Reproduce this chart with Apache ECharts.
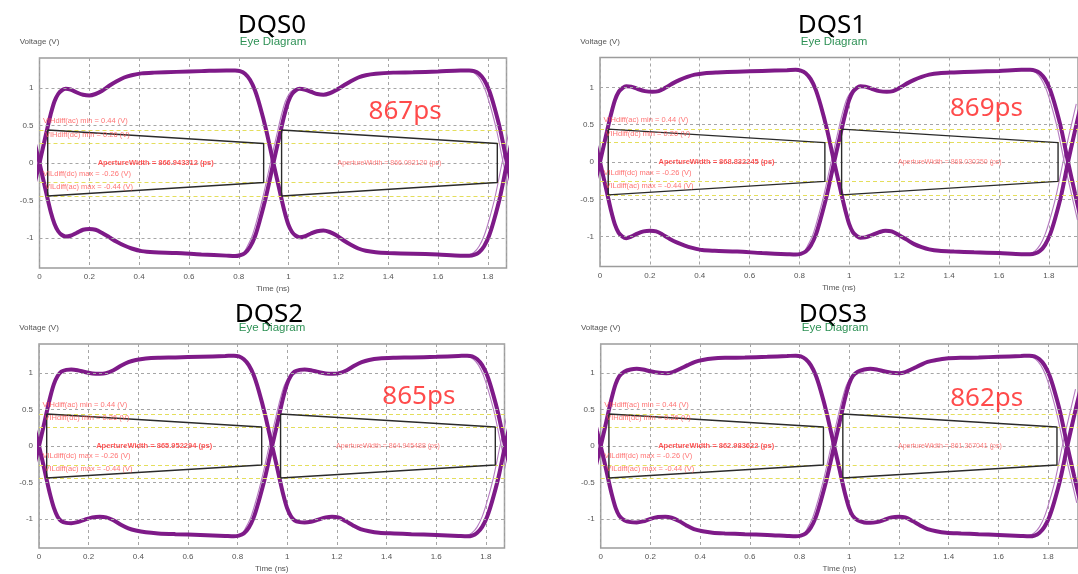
<!DOCTYPE html>
<html>
<head>
<meta charset="utf-8">
<script src="https://cdn.jsdelivr.net/npm/echarts@6/dist/echarts.min.js"></script>
<style>
  html, body { margin: 0; padding: 0; background: #ffffff; }
  #chart { width: 1078px; height: 574px; }
</style>
</head>
<body>
<div id="chart"></div>
<script>
// ---- data -------------------------------------------------------------
const panelNames = ['DQS0', 'DQS1', 'DQS2', 'DQS3'];
const eyeWidthLabels = ['867ps', '869ps', '865ps', '862ps'];

// aperture start (ns) and aperture width (ps) of the two eyes in each panel
const apertureStartNs = [[0.033, 0.972], [0.033, 0.969], [0.031, 0.973], [0.033, 0.974]];
const apertureWidthPs = [
  [866.943312, 866.092120],
  [868.832245, 868.030250],
  [865.952294, 864.945488],
  [862.983622, 861.367041]
];

// receiver thresholds (V)
const thresholdNames = ['VIHdiff(ac) min', 'VIHdiff(dc) min', 'VILdiff(dc) max', 'VILdiff(ac) max'];
const thresholdVolts = [0.44, 0.26, -0.26, -0.44];

const timeTicks = [0, 0.2, 0.4, 0.6, 0.8, 1, 1.2, 1.4, 1.6, 1.8];
const voltTicks = [-1, -0.5, 0, 0.5, 1];

// waveform traces [time ns, voltage V]; A = high bit then low bit, B = low bit then high bit
const dqs0TraceA = [[-0.03,-0.42],[-0.015,-0.21],[0,0],[0.015,0.22],[0.03,0.44],[0.045,0.65],[0.06,0.82],[0.075,0.92],[0.09,0.97],[0.105,0.99],[0.125,0.98],[0.15,0.94],[0.175,0.91],[0.2,0.9],[0.225,0.92],[0.25,0.96],[0.28,1.03],[0.31,1.09],[0.34,1.14],[0.37,1.17],[0.41,1.195],[0.46,1.205],[0.55,1.215],[0.65,1.225],[0.75,1.235],[0.785,1.235],[0.805,1.225],[0.825,1.19],[0.845,1.11],[0.865,0.97],[0.885,0.76],[0.91,0.44],[0.939,0],[0.954,-0.22],[0.969,-0.44],[0.984,-0.65],[0.999,-0.82],[1.014,-0.92],[1.029,-0.97],[1.044,-0.99],[1.064,-0.98],[1.09,-0.94],[1.115,-0.91],[1.14,-0.9],[1.165,-0.92],[1.19,-0.96],[1.22,-1.03],[1.25,-1.09],[1.28,-1.14],[1.31,-1.17],[1.35,-1.19],[1.4,-1.2],[1.5,-1.21],[1.6,-1.22],[1.69,-1.235],[1.725,-1.235],[1.745,-1.225],[1.765,-1.19],[1.785,-1.11],[1.805,-0.97],[1.825,-0.76],[1.85,-0.44],[1.877,0],[1.905,0.42],[1.93,0.78]];
const dqs0TraceB = [[-0.03,0.42],[-0.015,0.21],[0,0],[0.015,-0.22],[0.03,-0.44],[0.045,-0.65],[0.06,-0.81],[0.075,-0.91],[0.09,-0.96],[0.105,-0.98],[0.125,-0.97],[0.15,-0.93],[0.175,-0.89],[0.2,-0.88],[0.225,-0.89],[0.25,-0.93],[0.28,-0.99],[0.31,-1.05],[0.34,-1.1],[0.37,-1.14],[0.41,-1.175],[0.46,-1.19],[0.55,-1.2],[0.65,-1.22],[0.75,-1.235],[0.785,-1.24],[0.805,-1.23],[0.825,-1.2],[0.845,-1.12],[0.865,-0.98],[0.885,-0.76],[0.91,-0.44],[0.939,0],[0.954,0.22],[0.969,0.44],[0.984,0.65],[0.999,0.82],[1.014,0.92],[1.029,0.97],[1.044,0.99],[1.064,0.98],[1.09,0.95],[1.115,0.92],[1.14,0.91],[1.165,0.93],[1.19,0.97],[1.22,1.03],[1.25,1.09],[1.28,1.14],[1.31,1.17],[1.35,1.19],[1.42,1.205],[1.5,1.21],[1.6,1.22],[1.69,1.235],[1.725,1.235],[1.745,1.225],[1.765,1.19],[1.785,1.11],[1.805,0.97],[1.825,0.76],[1.85,0.44],[1.877,0],[1.905,-0.42],[1.93,-0.78]];

const dqs1TraceA = [[-0.03,-0.42],[-0.015,-0.21],[0,0],[0.015,0.22],[0.03,0.44],[0.045,0.65],[0.06,0.83],[0.075,0.94],[0.09,0.99],[0.105,1.015],[0.125,1.01],[0.15,0.98],[0.18,0.95],[0.21,0.94],[0.235,0.95],[0.26,0.99],[0.29,1.05],[0.32,1.1],[0.35,1.14],[0.38,1.17],[0.42,1.19],[0.47,1.2],[0.55,1.21],[0.65,1.22],[0.75,1.23],[0.785,1.235],[0.805,1.225],[0.825,1.19],[0.845,1.11],[0.865,0.97],[0.885,0.76],[0.91,0.44],[0.939,0],[0.954,-0.22],[0.969,-0.44],[0.984,-0.65],[0.999,-0.83],[1.014,-0.94],[1.029,-0.99],[1.044,-1.015],[1.064,-1.01],[1.09,-0.98],[1.12,-0.94],[1.145,-0.92],[1.17,-0.93],[1.2,-0.98],[1.23,-1.04],[1.26,-1.1],[1.29,-1.14],[1.32,-1.17],[1.36,-1.19],[1.42,-1.2],[1.5,-1.21],[1.6,-1.22],[1.69,-1.235],[1.725,-1.235],[1.745,-1.225],[1.765,-1.19],[1.785,-1.11],[1.805,-0.97],[1.825,-0.76],[1.85,-0.44],[1.877,0],[1.905,0.42],[1.93,0.78]];
const dqs1TraceB = [[-0.03,0.42],[-0.015,0.21],[0,0],[0.015,-0.22],[0.03,-0.44],[0.045,-0.66],[0.06,-0.84],[0.075,-0.95],[0.09,-1.0],[0.105,-1.02],[0.125,-1.0],[0.15,-0.96],[0.175,-0.93],[0.2,-0.92],[0.225,-0.93],[0.25,-0.97],[0.28,-1.03],[0.31,-1.08],[0.34,-1.12],[0.37,-1.15],[0.41,-1.18],[0.46,-1.19],[0.55,-1.2],[0.65,-1.22],[0.75,-1.235],[0.785,-1.24],[0.805,-1.23],[0.825,-1.2],[0.845,-1.12],[0.865,-0.98],[0.885,-0.76],[0.91,-0.44],[0.939,0],[0.954,0.22],[0.969,0.44],[0.984,0.65],[0.999,0.83],[1.014,0.94],[1.029,0.99],[1.044,1.015],[1.064,1.01],[1.09,0.98],[1.12,0.95],[1.15,0.94],[1.175,0.95],[1.2,0.99],[1.23,1.05],[1.26,1.1],[1.29,1.14],[1.32,1.17],[1.36,1.19],[1.42,1.2],[1.5,1.21],[1.6,1.22],[1.69,1.235],[1.725,1.235],[1.745,1.225],[1.765,1.19],[1.785,1.11],[1.805,0.97],[1.825,0.76],[1.85,0.44],[1.877,0],[1.905,-0.42],[1.93,-0.78]];

const dqs2TraceA = [[-0.03,-0.42],[-0.015,-0.21],[0,0],[0.015,0.22],[0.03,0.45],[0.045,0.67],[0.06,0.85],[0.075,0.96],[0.09,1.02],[0.11,1.045],[0.13,1.05],[0.155,1.04],[0.185,1.015],[0.215,0.995],[0.245,0.99],[0.27,1.0],[0.3,1.04],[0.33,1.1],[0.36,1.15],[0.39,1.18],[0.43,1.2],[0.48,1.21],[0.55,1.215],[0.65,1.225],[0.75,1.235],[0.785,1.24],[0.805,1.23],[0.825,1.19],[0.845,1.11],[0.865,0.97],[0.885,0.76],[0.91,0.44],[0.939,0],[0.954,-0.22],[0.969,-0.45],[0.984,-0.67],[0.999,-0.85],[1.014,-0.96],[1.029,-1.02],[1.05,-1.045],[1.07,-1.05],[1.095,-1.04],[1.125,-1.01],[1.155,-0.98],[1.18,-0.97],[1.205,-0.98],[1.235,-1.03],[1.265,-1.09],[1.295,-1.14],[1.33,-1.17],[1.37,-1.19],[1.43,-1.2],[1.5,-1.21],[1.6,-1.22],[1.69,-1.235],[1.725,-1.24],[1.745,-1.23],[1.765,-1.19],[1.785,-1.11],[1.805,-0.97],[1.825,-0.76],[1.85,-0.44],[1.877,0],[1.905,0.42],[1.93,0.78]];
const dqs2TraceB = [[-0.03,0.42],[-0.015,0.21],[0,0],[0.015,-0.22],[0.03,-0.45],[0.045,-0.67],[0.06,-0.85],[0.075,-0.97],[0.09,-1.03],[0.11,-1.055],[0.13,-1.06],[0.155,-1.045],[0.185,-1.01],[0.215,-0.98],[0.245,-0.97],[0.27,-0.98],[0.3,-1.02],[0.33,-1.08],[0.36,-1.13],[0.39,-1.16],[0.43,-1.185],[0.48,-1.2],[0.55,-1.21],[0.65,-1.22],[0.75,-1.235],[0.785,-1.24],[0.805,-1.23],[0.825,-1.2],[0.845,-1.12],[0.865,-0.98],[0.885,-0.76],[0.91,-0.44],[0.939,0],[0.954,0.22],[0.969,0.45],[0.984,0.67],[0.999,0.85],[1.014,0.96],[1.029,1.02],[1.05,1.045],[1.07,1.05],[1.095,1.04],[1.125,1.015],[1.155,0.995],[1.185,0.99],[1.21,1.0],[1.24,1.04],[1.27,1.1],[1.3,1.15],[1.33,1.18],[1.37,1.2],[1.43,1.21],[1.5,1.215],[1.6,1.225],[1.69,1.235],[1.725,1.24],[1.745,1.23],[1.765,1.19],[1.785,1.11],[1.805,0.97],[1.825,0.76],[1.85,0.44],[1.877,0],[1.905,-0.42],[1.93,-0.78]];

const dqs3TraceA = [[-0.03,-0.42],[-0.015,-0.21],[0,0],[0.015,0.22],[0.03,0.45],[0.045,0.67],[0.06,0.85],[0.075,0.96],[0.095,1.02],[0.12,1.05],[0.145,1.06],[0.17,1.05],[0.2,1.025],[0.235,1.005],[0.265,1.0],[0.29,1.015],[0.32,1.06],[0.35,1.11],[0.38,1.155],[0.41,1.18],[0.45,1.2],[0.5,1.21],[0.58,1.215],[0.67,1.225],[0.75,1.235],[0.785,1.24],[0.805,1.23],[0.825,1.19],[0.845,1.11],[0.865,0.97],[0.885,0.76],[0.91,0.44],[0.939,0],[0.954,-0.22],[0.969,-0.45],[0.984,-0.67],[0.999,-0.85],[1.014,-0.96],[1.034,-1.02],[1.06,-1.05],[1.085,-1.055],[1.11,-1.045],[1.14,-1.015],[1.17,-0.98],[1.2,-0.97],[1.225,-0.98],[1.255,-1.03],[1.285,-1.09],[1.315,-1.14],[1.35,-1.17],[1.39,-1.19],[1.45,-1.2],[1.52,-1.21],[1.6,-1.22],[1.69,-1.235],[1.725,-1.24],[1.745,-1.23],[1.765,-1.19],[1.785,-1.11],[1.805,-0.97],[1.825,-0.76],[1.85,-0.44],[1.877,0],[1.905,0.42],[1.93,0.78]];
const dqs3TraceB = [[-0.03,0.42],[-0.015,0.21],[0,0],[0.015,-0.22],[0.03,-0.45],[0.045,-0.67],[0.06,-0.85],[0.075,-0.96],[0.095,-1.02],[0.12,-1.045],[0.145,-1.05],[0.17,-1.035],[0.2,-1.0],[0.23,-0.975],[0.26,-0.97],[0.285,-0.985],[0.315,-1.03],[0.345,-1.09],[0.375,-1.14],[0.41,-1.17],[0.45,-1.19],[0.5,-1.2],[0.58,-1.21],[0.67,-1.22],[0.75,-1.235],[0.785,-1.24],[0.805,-1.23],[0.825,-1.2],[0.845,-1.12],[0.865,-0.98],[0.885,-0.76],[0.91,-0.44],[0.939,0],[0.954,0.22],[0.969,0.45],[0.984,0.67],[0.999,0.85],[1.014,0.96],[1.034,1.02],[1.06,1.05],[1.085,1.06],[1.11,1.05],[1.14,1.025],[1.17,1.005],[1.2,1.0],[1.225,1.015],[1.255,1.06],[1.285,1.11],[1.315,1.155],[1.35,1.18],[1.39,1.2],[1.45,1.21],[1.52,1.215],[1.6,1.225],[1.69,1.235],[1.725,1.24],[1.745,1.23],[1.765,1.19],[1.785,1.11],[1.805,0.97],[1.825,0.76],[1.85,0.44],[1.877,0],[1.905,-0.42],[1.93,-0.78]];

// faint early edges that separate from the main bundle
const ghostMidRise = [[0.8,-1.24],[0.815,-1.22],[0.833,-1.12],[0.853,-0.98],[0.873,-0.76],[0.898,-0.44],[0.927,0],[0.957,0.44],[0.972,0.65],[0.987,0.82],[1.002,0.92],[1.017,0.97],[1.035,0.995],[1.06,1.0]];
const ghostEndFall = [[1.69,1.235],[1.73,1.225],[1.75,1.19],[1.77,1.11],[1.79,0.97],[1.81,0.76],[1.835,0.44],[1.862,0],[1.89,-0.42],[1.915,-0.78]];
const ghostEndRise = [[1.69,-1.235],[1.725,-1.225],[1.745,-1.19],[1.765,-1.11],[1.785,-0.97],[1.805,-0.76],[1.83,-0.44],[1.857,0],[1.885,0.42],[1.91,0.78]];

const traces = [
  [dqs0TraceA, dqs0TraceB],
  [dqs1TraceA, dqs1TraceB],
  [dqs2TraceA, dqs2TraceB],
  [dqs3TraceA, dqs3TraceB]
];

// ---- layout & style ---------------------------------------------------
const GRIDS = [
  { left: 39.5, top: 58,   width: 467, height: 210 },
  { left: 600,  top: 57.5, width: 480, height: 209 },
  { left: 39,   top: 344,  width: 465.5, height: 209 },
  { left: 600.7, top: 344, width: 480, height: 209 }
];
const X_MAXES = [1.875, 1.917, 1.875, 1.92];
const TITLE_POS = [[272, 26, 273, 41.5], [832, 26, 834, 41.5], [269, 315, 272, 328], [833, 315, 835, 328]];
const BIG_LABEL_POS = [[1.468, 0.68], [1.55, 0.715], [1.53, 0.676], [1.553, 0.656]];
const THRESH_LABEL_POS = [[0.014, 0.56], [0.022, 0.38], [0.014, -0.14], [0.022, -0.32]];

const X_MIN = 0, Y_MIN = -1.4, Y_MAX = 1.4;
const TRACE_COLOR = '#7e1a88';
const GHOST_COLOR = '#b57cc0';
const LABEL_RED = '#ff5050';
const AXIS_FONT = 'Liberation Sans, Arial, sans-serif';

const grid = [], xAxis = [], yAxis = [], series = [], graphic = [];

panelNames.forEach((name, i) => {
  grid.push(Object.assign({ show: true, borderColor: '#9c9c9c', borderWidth: 1.5, backgroundColor: '#fff', containLabel: false }, GRIDS[i]));

  xAxis.push({
    type: 'value', gridIndex: i, min: X_MIN, max: X_MAXES[i], interval: 0.2,
    name: 'Time (ns)', nameLocation: 'middle', nameGap: 17,
    nameTextStyle: { fontSize: 8, color: '#555', fontFamily: AXIS_FONT },
    axisLine: { show: false }, axisTick: { show: false },
    axisLabel: { customValues: timeTicks, fontSize: 8, color: '#555', margin: 5, fontFamily: AXIS_FONT },
    splitLine: { show: true, lineStyle: { type: [3, 3], color: '#a6a6a6', width: 1 } }
  });
  yAxis.push({
    type: 'value', gridIndex: i, min: Y_MIN, max: Y_MAX,
    name: 'Voltage (V)', nameLocation: 'end', nameGap: 12,
    nameTextStyle: { fontSize: 8, color: '#555', fontFamily: AXIS_FONT, align: 'center' },
    axisLine: { show: false }, axisTick: { show: false },
    axisLabel: { customValues: voltTicks, fontSize: 8, color: '#555', margin: 6, fontFamily: AXIS_FONT },
    splitLine: { show: false }
  });

  const ax = { xAxisIndex: i, yAxisIndex: i };

  // horizontal grid lines and receiver thresholds
  series.push(Object.assign({
    type: 'line', data: [[X_MIN, 0]], showSymbol: false, silent: true, z: 1,
    lineStyle: { opacity: 0 },
    markLine: {
      silent: true, symbol: ['none', 'none'], label: { show: false }, animation: false,
      lineStyle: { type: [3, 3], color: '#a6a6a6', width: 1 },
      data: voltTicks.map(v => ({ yAxis: v }))
    }
  }, ax));
  series.push(Object.assign({
    type: 'line', data: [[X_MIN, 0]], showSymbol: false, silent: true, z: 2,
    lineStyle: { opacity: 0 },
    markLine: {
      silent: true, symbol: ['none', 'none'], label: { show: false }, animation: false,
      lineStyle: { type: [4, 3], color: '#e4de5c', width: 1 },
      data: thresholdVolts.map(v => ({ yAxis: v }))
    }
  }, ax));

  // faint edges
  [ghostMidRise, ghostEndFall, ghostEndRise].forEach(g => {
    series.push(Object.assign({
      type: 'line', data: g, showSymbol: false, smooth: 0.3, silent: true, z: 3,
      lineStyle: { color: GHOST_COLOR, width: 1.1 }
    }, ax));
  });

  // main waveform bundles
  traces[i].forEach(t => {
    series.push(Object.assign({
      type: 'line', data: t, showSymbol: false, smooth: 0.3, silent: true, z: 4,
      lineStyle: { color: TRACE_COLOR, width: 4 }
    }, ax));
  });

  // aperture trapezoids: left edge spans the ac thresholds, right edge the dc thresholds
  apertureStartNs[i].forEach((l, k) => {
    const r = l + apertureWidthPs[i][k] / 1000;
    series.push(Object.assign({
      type: 'line', showSymbol: false, silent: true, z: 5,
      lineStyle: { color: '#2a2a2a', width: 1.4 },
      data: [[l, thresholdVolts[0]], [r, thresholdVolts[1]], [r, thresholdVolts[2]], [l, thresholdVolts[3]], [l, thresholdVolts[0]]]
    }, ax));
  });

  // text annotations
  const labels = [];
  thresholdNames.forEach((n, k) => {
    labels.push({
      name: `${n} = ${thresholdVolts[k].toFixed(2)} (V)`,
      value: THRESH_LABEL_POS[k],
      label: { position: 'right', distance: 0, fontSize: 7.5, color: LABEL_RED }
    });
  });
  apertureStartNs[i].forEach((l, k) => {
    const w = apertureWidthPs[i][k];
    labels.push({
      name: `ApertureWidth = ${w.toFixed(6)} (ps)`,
      value: [l + w / 2000, 0],
      label: { position: 'inside', fontSize: k === 0 ? 7.5 : 7, fontWeight: k === 0 ? 'bold' : 'normal', color: k === 0 ? '#ff3030' : '#ff6060' }
    });
  });
  labels.push({
    name: eyeWidthLabels[i],
    value: BIG_LABEL_POS[i],
    label: { position: 'inside', fontSize: 26, color: '#ff1e1e', fontFamily: 'Noto Sans, sans-serif' }
  });
  series.push(Object.assign({
    type: 'scatter', symbolSize: 0, silent: true, z: 10, data: labels,
    label: { show: true, formatter: '{b}', fontFamily: AXIS_FONT }
  }, ax));

  // panel titles
  const tp = TITLE_POS[i];
  graphic.push({
    type: 'text', x: tp[0], y: tp[1], silent: true,
    style: { text: name, font: '26px "Noto Sans", sans-serif', fill: '#000', align: 'center', verticalAlign: 'middle' }
  });
  graphic.push({
    type: 'text', x: tp[2], y: tp[3], silent: true,
    style: { text: 'Eye Diagram', font: '11.5px "Liberation Sans", Arial, sans-serif', fill: '#2e9155', align: 'center', verticalAlign: 'middle' }
  });
});

const chart = echarts.init(document.getElementById('chart'), null, { renderer: 'canvas' });
chart.setOption({
  animation: false,
  backgroundColor: '#ffffff',
  grid, xAxis, yAxis, series, graphic
});
</script>
</body>
</html>
